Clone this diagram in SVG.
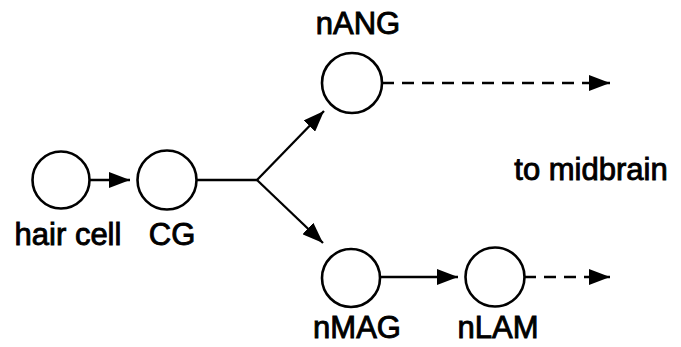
<svg xmlns="http://www.w3.org/2000/svg" width="681" height="347" viewBox="0 0 681 347">
<style>
.node circle{fill:#fff;stroke:#000;stroke-width:2.6}
.lbl{font-family:"Liberation Sans",Arial,sans-serif;font-size:31px;fill:#000;stroke:#000;stroke-width:0.9;text-anchor:middle}
.edge{stroke:#000;stroke-width:2.3;fill:none}
.dash{stroke-dasharray:12 8}
</style>
<defs>
<marker id="ah" markerUnits="userSpaceOnUse" markerWidth="22" markerHeight="16" refX="21" refY="8" orient="auto">
<path d="M0,0 L21,8 L0,16 Z" fill="#000"/>
</marker>
</defs>
<rect width="681" height="347" fill="#fff"/>
<g id="connectors">
<line class="edge" x1="90" y1="180" x2="130" y2="180" marker-end="url(#ah)"/>
<line class="edge" x1="197" y1="180" x2="257" y2="180"/>
<line class="edge" x1="257" y1="180" x2="324" y2="111" marker-end="url(#ah)"/>
<line class="edge" x1="257" y1="180" x2="323" y2="243" marker-end="url(#ah)"/>
<line class="edge dash" x1="382" y1="83" x2="610" y2="83" marker-end="url(#ah)"/>
<line class="edge" x1="380" y1="277" x2="458" y2="277" marker-end="url(#ah)"/>
<line class="edge dash" x1="524" y1="277" x2="610" y2="277" marker-end="url(#ah)"/>
</g>
<g id="hair-cell" class="node"><circle cx="61" cy="180" r="28.5"/><text class="lbl" x="68" y="245">hair cell</text></g>
<g id="CG" class="node"><circle cx="167" cy="180" r="29.5"/><text class="lbl" x="172" y="245">CG</text></g>
<g id="nANG" class="node"><circle cx="352" cy="83" r="30"/><text class="lbl" x="358" y="34">nANG</text></g>
<g id="nMAG" class="node"><circle cx="351" cy="278" r="29"/><text class="lbl" x="357" y="338">nMAG</text></g>
<g id="nLAM" class="node"><circle cx="495" cy="277" r="29.5"/><text class="lbl" x="498" y="338">nLAM</text></g>
<g id="midbrain"><text class="lbl" x="591" y="180">to midbrain</text></g>
</svg>
